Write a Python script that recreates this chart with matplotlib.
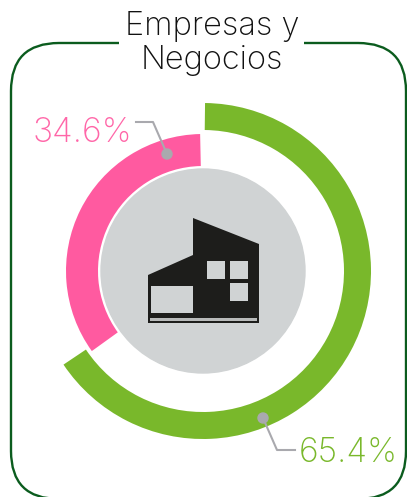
import matplotlib.pyplot as plt
from matplotlib.patches import FancyBboxPatch, Polygon, Rectangle, Circle

# share of each group
labels = ['65.4%', '34.6%']
green_share = 65.4
pink_share = 34.6
title_lines = ['Empresas y', 'Negocios']

GREEN = '#79b82b'
PINK = '#ff5aa0'
GREY = '#a9a9ae'
DISC = '#d0d3d4'
DARK = '#111111'
H = 497

def py(y):      # picture y (from top) to axes y
    return H - y

plt.rcParams['font.family'] = ['Inter', 'DejaVu Sans']
plt.rcParams['font.weight'] = 'light'

fig = plt.figure(figsize=(4.07, 4.97), dpi=100)
ax = fig.add_axes([0, 0, 1, 1])

c = (203, py(271))

# outer ring, pink ring
ax.pie([green_share, pink_share], colors=[GREEN, 'none'], startangle=89.3, counterclock=False,
       center=c, radius=168, wedgeprops={'width': 27}, frame=True)
ax.pie([green_share, pink_share], colors=['none', PINK], startangle=91.2, counterclock=False,
       center=c, radius=137, wedgeprops={'width': 32}, frame=True)
ax.add_patch(Circle(c, 102, color=DISC, zorder=3))

# frame with gap for the title
ax.add_patch(FancyBboxPatch((11, py(499)), 395, 456, boxstyle='round,pad=0,rounding_size=48',
                            fc='none', ec='#0b5c1e', lw=1.7, zorder=1))
ax.add_patch(Rectangle((119, py(75)), 185, 70, fc='white', ec='none', zorder=2))

ax.text(212, py(26), title_lines[0], ha='center', va='center', fontsize=23.5, color=DARK, zorder=5)
ax.text(212, py(60), title_lines[1], ha='center', va='center', fontsize=23.5, color=DARK, zorder=5)

# house icon
house = [(193, 218), (259, 244), (259, 323), (148, 323), (148, 275), (193, 255)]
ax.add_patch(Polygon([(x, py(y)) for x, y in house], fc='#1d1d1b', ec='none', zorder=4))
for x0, y0, x1, y1 in [(207, 261, 225, 279), (230, 261, 248, 279), (230, 283, 248, 301),
                       (151, 286, 193, 313)]:
    ax.add_patch(Rectangle((x0, py(y1)), x1 - x0, y1 - y0, fc=DISC, ec='none', zorder=5))
ax.add_patch(Rectangle((150, py(320.5)), 107, 3, fc='#b8baba', ec='none', zorder=5))

# leaders
ax.plot([136, 153, 167], [py(122), py(122), py(154)], color=GREY, lw=1.5, zorder=6)
ax.plot([263, 277, 295], [py(418), py(450), py(450)], color=GREY, lw=1.5, zorder=6)
ax.add_patch(Circle((167, py(154)), 5, color=GREY, zorder=6))
ax.add_patch(Circle((263, py(418)), 5, color=GREY, zorder=6))

ax.text(82.5, py(133), labels[1], ha='center', va='center', fontsize=24.3, color='#ff66a8', zorder=6)
ax.text(348.5, py(453), labels[0], ha='center', va='center', fontsize=24.3, color=GREEN, zorder=6)

ax.set_xlim(0, 407)
ax.set_ylim(0, H)
ax.set_aspect('equal')
ax.axis('off')

plt.savefig('out.png', dpi=100)
